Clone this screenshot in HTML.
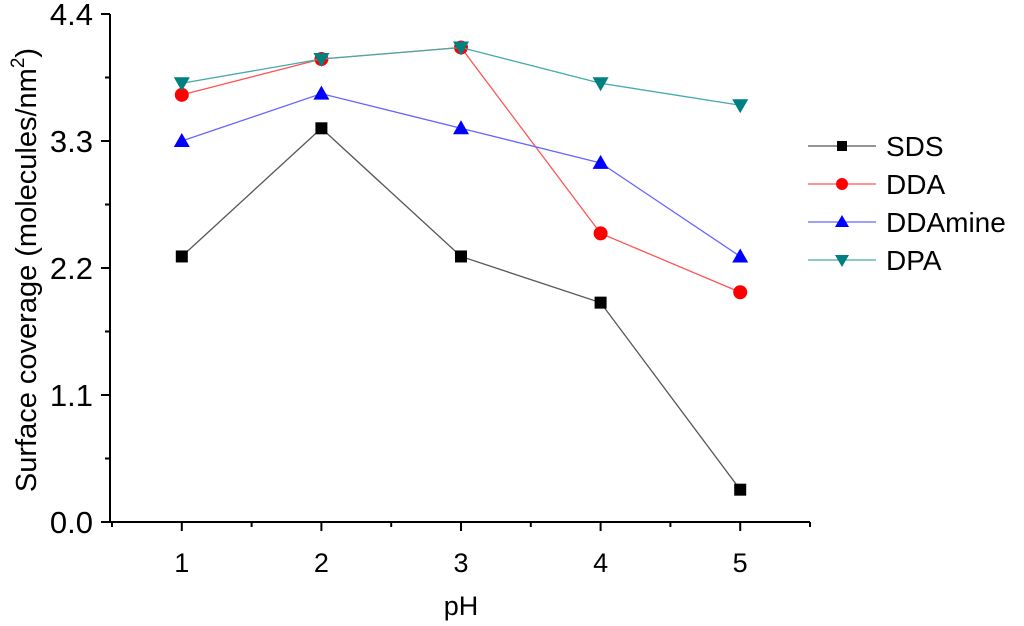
<!DOCTYPE html>
<html><head><meta charset="utf-8"><style>
body{margin:0;background:#fff;}
svg{display:block;font-family:"Liberation Sans",Arial,sans-serif;}
</style></head><body>
<svg id="chart" width="1024" height="626" viewBox="0 0 1024 626" xmlns="http://www.w3.org/2000/svg">
<g id="axes"></g><g id="series"></g><g id="legend"></g>
</svg>
<script>
const categories=[1,2,3,4,5];
const sdsValues=[2.30,3.41,2.30,1.90,0.28];
const ddaValues=[3.70,4.01,4.11,2.50,1.99];
const ddamineValues=[3.30,3.71,3.41,3.11,2.30];
const dpaValues=[3.80,4.01,4.11,3.80,3.61];
const yTicks=[0.0,1.1,2.2,3.3,4.4];
const yTickLabels=["0.0","1.1","2.2","3.3","4.4"];
const seriesNames=["SDS","DDA","DDAmine","DPA"];

const NS="http://www.w3.org/2000/svg";
const X0=112,X1=810,Y0=522,Y1=14;
const xs=v=>X0+(v-0.5)/5*(X1-X0);
const ys=v=>Y0-v/4.4*(Y0-Y1);
function mk(tag,attrs,parent,text){const e=document.createElementNS(NS,tag);for(const k in attrs)e.setAttribute(k,attrs[k]);if(text!==undefined)e.textContent=text;parent.appendChild(e);return e;}
const ax=document.getElementById('axes');
let e=mk('path',{d:`M${X0-2},${Y1} V${Y0} H${X1}`,fill:'none',stroke:'#000','stroke-width':2},ax);


yTicks.forEach((t,i)=>{
 const y=ys(t);
 mk('line',{x1:X0-11,x2:X0-2,y1:y,y2:y,stroke:'#000','stroke-width':2},ax);
 const l=mk('text',{x:93,y:y+11,'text-anchor':'end','font-size':31},ax,yTickLabels[i]);
 
 
 if(i<yTicks.length-1){const ym=ys(t+0.55);mk('line',{x1:X0-7,x2:X0-2,y1:ym,y2:ym,stroke:'#000','stroke-width':2},ax);}
});
categories.forEach(c=>{
 const x=xs(c);
 mk('line',{x1:x,x2:x,y1:Y0,y2:Y0+9,stroke:'#000','stroke-width':2},ax);
 const l=mk('text',{x:x,y:Y0+50,'text-anchor':'middle','font-size':27},ax,String(c));
 
 
});
[0.5,1.5,2.5,3.5,4.5,5.5].forEach(c=>{const x=xs(c);mk('line',{x1:x,x2:x,y1:Y0,y2:Y0+5,stroke:'#000','stroke-width':2},ax);});
e=mk('text',{x:461,y:615,'text-anchor':'middle','font-size':27},ax,'pH');


e=mk('text',{transform:'translate(36,270) rotate(-90)','text-anchor':'middle','font-size':29},ax);


e.innerHTML='Surface coverage (molecules/nm<tspan dy="-12" font-size="19">2</tspan><tspan dy="12">)</tspan>';

const data=[sdsValues,ddaValues,ddamineValues,dpaValues];
const lineCols=['#555','#f55','#66f','#4aa'];
const markCols=['#000','#f00','#00f','#008080'];
const shapes=['sq','ci','up','dn'];
function marker(g,shape,x,y,col,s){
 if(shape==='sq')return mk('rect',{x:x-s,y:y-s,width:2*s,height:2*s,fill:col},g);
 if(shape==='ci')return mk('circle',{cx:x,cy:y,r:s+1,fill:col},g);
 if(shape==='up')return mk('polygon',{points:`${x},${y-s-2} ${x-s-2},${y+s} ${x+s+2},${y+s}`,fill:col},g);
 return mk('polygon',{points:`${x},${y+s+2} ${x-s-2},${y-s} ${x+s+2},${y-s}`,fill:col},g);
}
const sg=document.getElementById('series');
data.forEach((vals,si)=>{
 const g=mk('g',{},sg);
 
 
 const pts=vals.map((v,i)=>xs(categories[i])+','+ys(v)).join(' ');
 mk('polyline',{points:pts,fill:'none',stroke:lineCols[si],'stroke-width':1.3},g);
 vals.forEach((v,i)=>{
  const m=marker(g,shapes[si],xs(categories[i]),ys(v),markCols[si],6);
  
  
 });
});
const lg=document.getElementById('legend');
seriesNames.forEach((n,i)=>{
 const y=146+i*38;
 const g=mk('g',{},lg);
 
 
 mk('line',{x1:808,x2:876,y1:y,y2:y,stroke:lineCols[i],'stroke-width':1.3},g);
 marker(g,shapes[i],842,y,markCols[i],5);
 mk('text',{x:886,y:y+10,'font-size':28},g,n);
});
</script>
</body></html>
